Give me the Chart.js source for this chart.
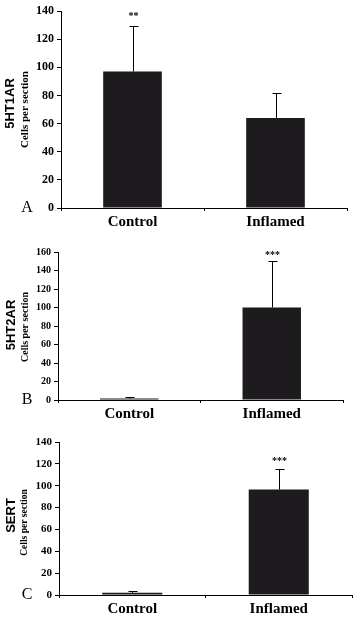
<!DOCTYPE html>
<html>
<head>
<meta charset="utf-8">
<script src="https://cdn.jsdelivr.net/npm/chart.js@4.4.1/dist/chart.umd.min.js"></script>
<style>
  html, body { margin: 0; padding: 0; background: #fff; }
  body { width: 354px; height: 623px; position: relative; overflow: hidden; }
  .panel { position: absolute; left: 0; width: 354px; }
  canvas { display: block; }
</style>
</head>
<body>
<div class="panel" style="top:0px;height:230px"><canvas id="cA" width="354" height="230"></canvas></div>
<div class="panel" style="top:230px;height:195px"><canvas id="cB" width="354" height="195"></canvas></div>
<div class="panel" style="top:425px;height:198px"><canvas id="cC" width="354" height="198"></canvas></div>
<script>
// ---- data ----
const categories = ['Control', 'Inflamed'];

const ht1aMeans = [97, 64];
const ht1aErrors = [32, 18];
const ht1aStars = ['**', ''];
const ht1aMax = 140;

const ht2aMeans = [1.5, 100];
const ht2aErrors = [1.5, 50.5];
const ht2aStars = ['', '***'];
const ht2aMax = 160;

const sertMeans = [2, 96.5];
const sertErrors = [1.8, 19];
const sertStars = ['', '***'];
const sertMax = 140;

const yStep = 20;
const subTitle = 'Cells per section';

// ---- plugin: error bars, stars, titles, panel letter ----
const annotPlugin = {
  id: 'annot',
  afterDatasetsDraw(chart, args, opts) {
    const ctx = chart.ctx;
    const xs = chart.scales.x, ys = chart.scales.y;
    const ds = chart.data.datasets[0];
    ctx.save();
    ctx.strokeStyle = '#000';
    ctx.lineWidth = 1;
    ds.data.forEach((v, i) => {
      const x = Math.round(xs.getPixelForValue(i)) + 0.5;
      const yBar = ys.getPixelForValue(v);
      const yTop = Math.round(ys.getPixelForValue(v + opts.errors[i])) + 0.5;
      ctx.beginPath();
      ctx.moveTo(x, yBar);
      ctx.lineTo(x, yTop);
      ctx.moveTo(x - 4, yTop);
      ctx.lineTo(x + 5, yTop);
      ctx.stroke();
      if (opts.stars[i]) {
        ctx.fillStyle = '#000';
        ctx.font = 'bold 10px "Liberation Serif"';
        ctx.textAlign = 'center';
        ctx.textBaseline = 'alphabetic';
        ctx.fillText(opts.stars[i], x, yTop - opts.starGap);
      }
    });
    const ca = chart.chartArea;
    const midY = (ca.top + ca.bottom) / 2;
    // main title (rotated)
    ctx.fillStyle = '#000';
    ctx.textAlign = 'center';
    ctx.textBaseline = 'middle';
    ctx.save();
    ctx.translate(opts.titleX, midY + opts.titleDy);
    ctx.rotate(-Math.PI / 2);
    ctx.font = 'bold 13px "Liberation Sans"';
    ctx.fillText(opts.title, 0, 0);
    ctx.restore();
    ctx.save();
    ctx.translate(opts.subX, midY + opts.subDy);
    ctx.rotate(-Math.PI / 2);
    ctx.font = 'bold ' + opts.subSize + 'px "Liberation Serif"';
    ctx.fillText(subTitle, 0, 0);
    ctx.restore();
    // panel letter
    ctx.font = '16px "Liberation Serif"';
    ctx.textAlign = 'center';
    ctx.textBaseline = 'alphabetic';
    ctx.fillText(opts.letter, 27, ca.bottom + 4);
    ctx.restore();
  }
};

function makeChart(id, means, errors, stars, yMax, cfg) {
  return new Chart(document.getElementById(id), {
    type: 'bar',
    data: {
      labels: categories,
      datasets: [{
        data: means,
        backgroundColor: '#1d1b1d',
        borderWidth: 0,
        barPercentage: 0.41,
        categoryPercentage: 1.0
      }]
    },
    options: {
      responsive: false,
      animation: false,
      devicePixelRatio: 1,
      layout: { padding: { left: 0, top: cfg.padTop, right: cfg.padRight, bottom: 0 } },
      plugins: {
        legend: { display: false },
        tooltip: { enabled: false },
        annot: {
          errors: errors, stars: stars, title: cfg.title, letter: cfg.letter,
          titleX: cfg.titleX, titleDy: cfg.titleDy, subX: 25, subDy: cfg.subDy,
          subSize: cfg.subSize, starGap: cfg.starGap
        }
      },
      scales: {
        x: {
          offset: true,
          grid: { offset: true, drawOnChartArea: false, drawTicks: true, tickLength: 3, color: '#000', lineWidth: 1 },
          border: { display: true, color: '#000', width: 1 },
          ticks: { color: '#000', padding: 2, font: { family: 'Liberation Serif', weight: 'bold', size: 15 } },
          afterFit(scale) { scale.height = cfg.xHeight; }
        },
        y: {
          min: 0, max: yMax,
          grid: { drawOnChartArea: false, drawTicks: true, tickLength: 4, color: '#000', lineWidth: 1 },
          border: { display: true, color: '#000', width: 1 },
          ticks: { stepSize: yStep, color: '#000', padding: 3, font: { family: 'Liberation Serif', weight: 'bold', size: cfg.tickSize } },
          afterFit(scale) { scale.width = cfg.yWidth; }
        }
      }
    },
    plugins: [annotPlugin]
  });
}

makeChart('cA', ht1aMeans, ht1aErrors, ht1aStars, ht1aMax,
  { padTop: 11, padRight: 7, yWidth: 61, xHeight: 22, tickSize: 12, title: '5HT1AR', letter: 'A', titleX: 10, titleDy: -6, subDy: 0, subSize: 11, starGap: 8 });
makeChart('cB', ht2aMeans, ht2aErrors, ht2aStars, ht2aMax,
  { padTop: 22, padRight: 11, yWidth: 58, xHeight: 25, tickSize: 10, title: '5HT2AR', letter: 'B', titleX: 11, titleDy: -1, subDy: 1, subSize: 10, starGap: 4 });
makeChart('cC', sertMeans, sertErrors, sertStars, sertMax,
  { padTop: 17, padRight: 2, yWidth: 59, xHeight: 28, tickSize: 11, title: 'SERT', letter: 'C', titleX: 11, titleDy: -3, subDy: 4, subSize: 9.5, starGap: 6 });
</script>
</body>
</html>
